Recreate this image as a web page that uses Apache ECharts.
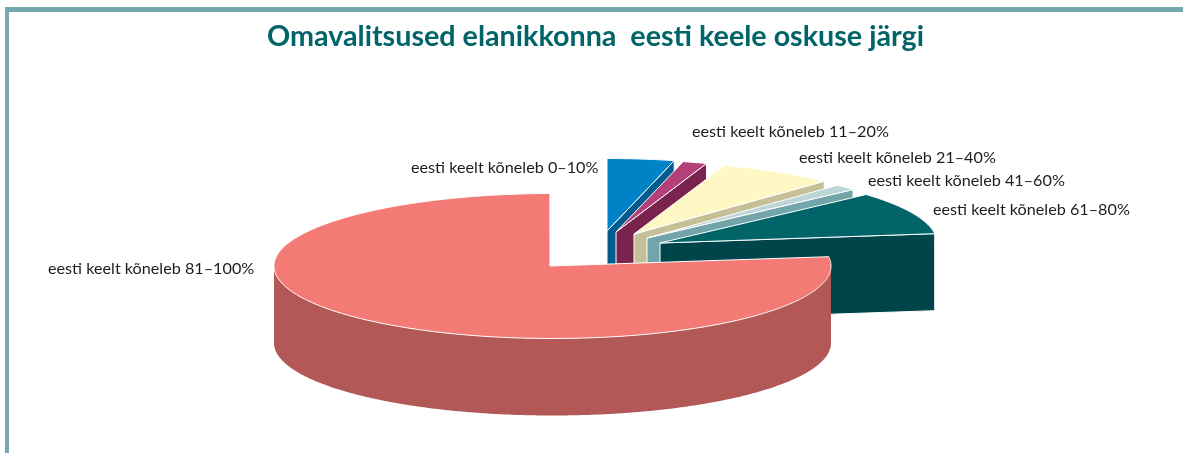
<!DOCTYPE html>
<html>
<head>
<meta charset="utf-8">
<style>html,body{margin:0;padding:0;background:#fff}#c{width:1183px;height:453px}</style>
<script src="https://cdn.jsdelivr.net/npm/echarts@6/dist/echarts.min.js"></script>
</head>
<body>
<div id="c"></div>
<script>
const titleText = 'Omavalitsused elanikkonna  eesti keele oskuse järgi';
const categories = ['eesti keelt kõneleb 0–10%','eesti keelt kõneleb 11–20%','eesti keelt kõneleb 21–40%','eesti keelt kõneleb 41–60%','eesti keelt kõneleb 61–80%','eesti keelt kõneleb 81–100%'];
const shares = [3.9, 1.4, 6.75, 1.3, 9.6, 76.9];
const topColors = ['#0082c6','#b43f7a','#fff8c4','#bcd6d8','#006468','#f47a75'];
const sideColors = ['#005b8e','#7a234f','#c5c097','#72a5a9','#00454a','#b25856'];

// layout: exploded apex of each wedge, ellipse centre offset, label anchor
const apexes = [[607,231],[616,232],[634,234],[647,238],[660,243],[550,266]];
const arcCentres = [[607,231],[616,232],[634,234],[647,238],[660,243],[552.5,266]];
const labelAnchors = [[411,168],[692,132],[799,158],[868,181],[933,210],[48,269]];
const RX = [277,277,277,277,277,278.5], RY = 72.5, DEPTH = 77;

const starts = [];
shares.reduce((acc, v, i) => { starts[i] = acc; return acc + v; }, 0);

function pt(c, rx, deg, dy) {
  const t = deg * Math.PI / 180;
  return [c[0] + rx * Math.sin(t), c[1] - RY * Math.cos(t) + (dy || 0)];
}
function arc(c, rx, a, b, dy) {
  const pts = [], n = Math.max(2, Math.ceil(Math.abs(b - a) * 2));
  for (let i = 0; i <= n; i++) pts.push(pt(c, rx, a + (b - a) * i / n, dy));
  return pts;
}

function renderItem(params, api) {
  const i = params.dataIndex;
  const a = api.value(1) * 3.6, b = a + api.value(2) * 3.6;
  const c = arcCentres[i], p = apexes[i], rx = RX[i];
  const children = [];
  const lo = Math.max(a, 90), hi = Math.min(b, 270);
  if (hi > lo) {
    children.push({
      type: 'polygon', z2: i * 3,
      shape: { points: arc(c, rx, lo, hi, 0).concat(arc(c, rx, hi, lo, DEPTH)) },
      style: { fill: sideColors[i] }
    });
  }
  if (b < 180) {
    const e = pt(c, rx, b);
    children.push({
      type: 'polygon', z2: i * 3 + 1,
      shape: { points: [p, e, [e[0], e[1] + DEPTH], [p[0], p[1] + DEPTH]] },
      style: { fill: sideColors[i], stroke: '#fff', lineWidth: 1 }
    });
  }
  children.push({
    type: 'polygon', z2: i * 3 + 2,
    shape: { points: [p].concat(arc(c, rx, a, b, 0)) },
    style: { fill: topColors[i], stroke: '#fff', lineWidth: 1, lineJoin: 'round' }
  });
  children.push({
    type: 'text', z2: 100,
    style: {
      text: categories[i], x: labelAnchors[i][0], y: labelAnchors[i][1],
      fill: '#1d1d1b', font: '16.2px Lato', verticalAlign: 'middle', align: 'left'
    }
  });
  return { type: 'group', children };
}

const chart = echarts.init(document.getElementById('c'), null, { renderer: 'canvas' });
chart.setOption({
  animation: false,
  backgroundColor: '#fff',
  title: {
    text: titleText, left: 262, top: 17,
    textStyle: { color: '#006468', fontFamily: 'Lato', fontWeight: 'bold', fontSize: 28.7 }
  },
  graphic: [
    { type: 'rect', shape: { x: 5, y: 7, width: 1178, height: 5 }, style: { fill: '#74a8ab' }, silent: true },
    { type: 'rect', shape: { x: 5, y: 7, width: 4, height: 446 }, style: { fill: '#74a8ab' }, silent: true }
  ],
  series: [{
    type: 'custom',
    coordinateSystem: 'none',
    renderItem,
    silent: true,
    encode: { tooltip: 2 },
    data: shares.map((v, i) => [i, starts[i], v])
  }]
});
</script>
</body>
</html>
